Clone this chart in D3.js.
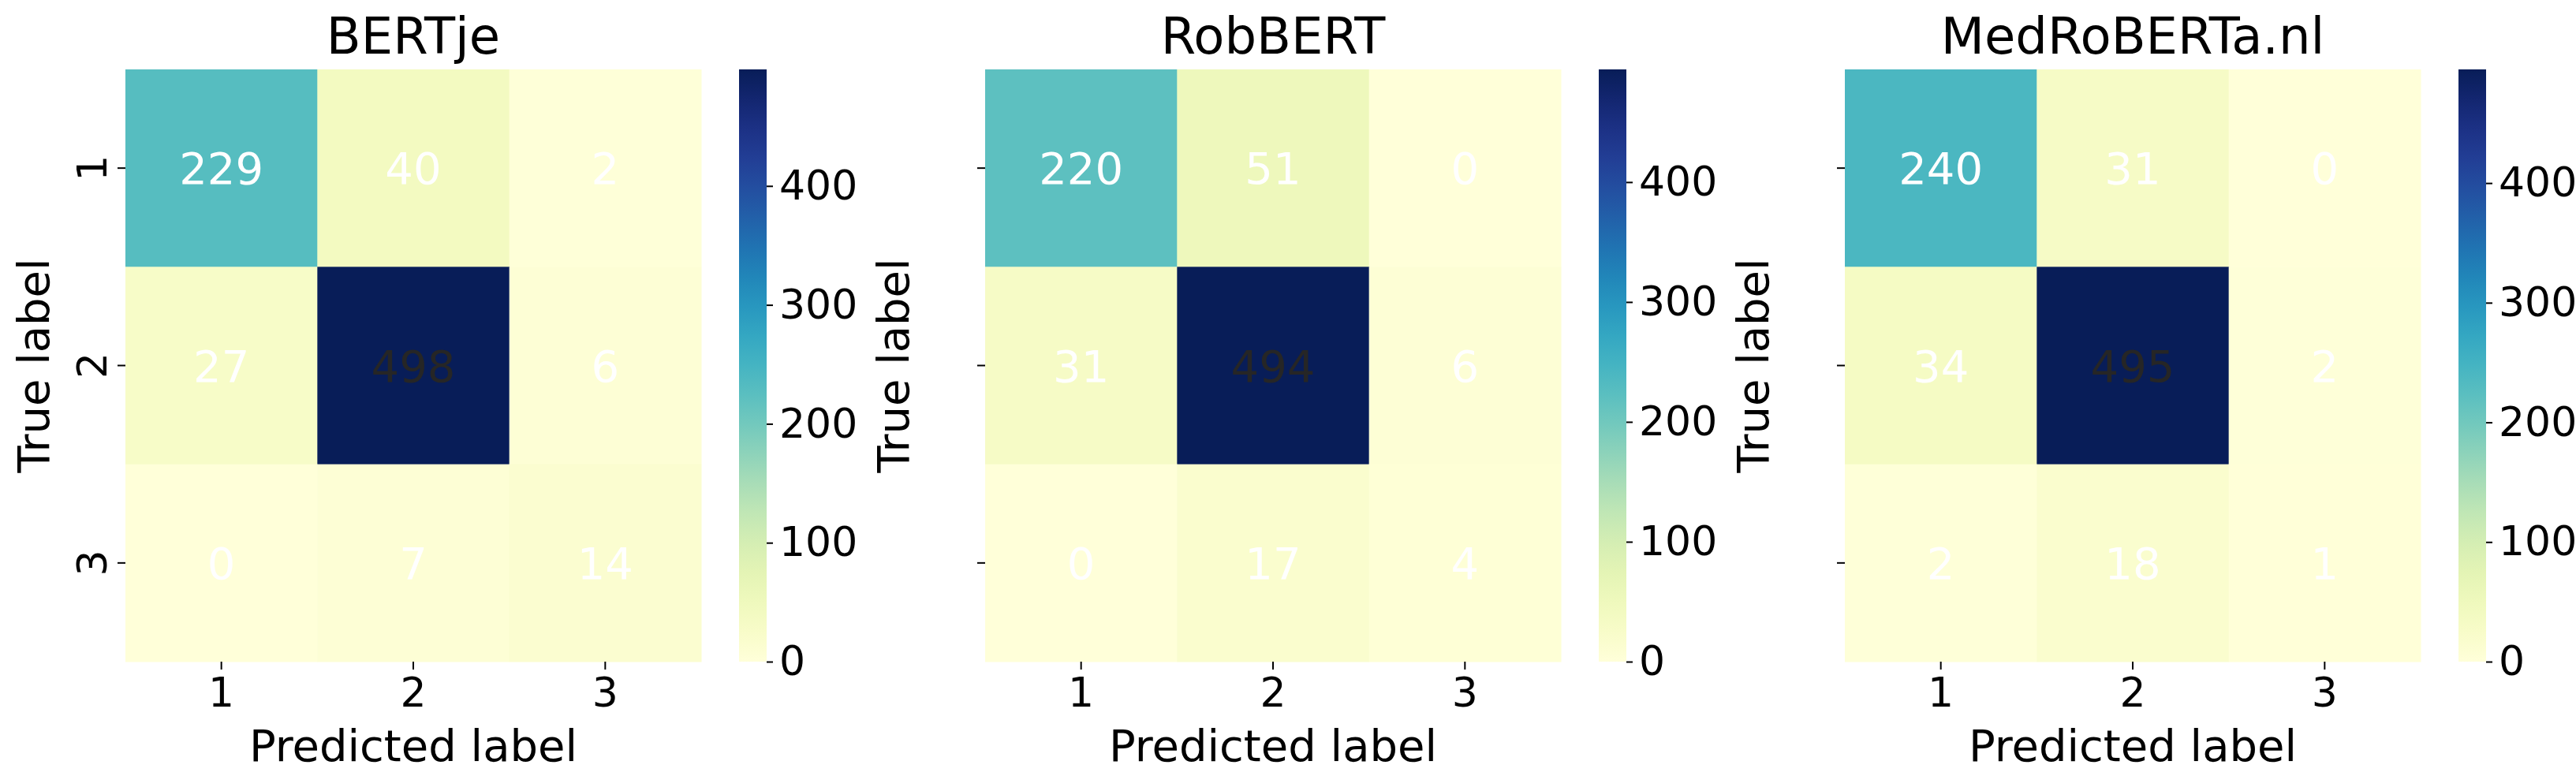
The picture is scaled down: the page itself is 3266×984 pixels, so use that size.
<!DOCTYPE html>
<html>
<head>
<meta charset="utf-8">
<script src="https://cdn.jsdelivr.net/npm/d3@7"></script>
<style>
  body { margin: 0; background: #fff; }
  text { font-family: "DejaVu Sans", sans-serif; }
</style>
</head>
<body>
<svg id="chart" width="3266" height="984"></svg>
<script>
// data
let models = ["BERTje", "RobBERT", "MedRoBERTa.nl"];
let labels = ["1", "2", "3"];
let bertje = [[229, 40, 2], [27, 498, 6], [0, 7, 14]];
let robbert = [[220, 51, 0], [31, 494, 6], [0, 17, 4]];
let medroberta = [[240, 31, 0], [34, 495, 2], [2, 18, 1]];
let matrices = [bertje, robbert, medroberta];
let cbarTicks = [0, 100, 200, 300, 400];

let svg = d3.select("#chart");
let hmW = 730, hmH = 751, marginTop = 88;
let offsets = [159, 1249, 2339];

matrices.forEach((m, p) => {
  let x0 = offsets[p];
  let g = svg.append("g").attr("transform", `translate(${x0}, ${marginTop})`);
  let maxV = d3.max(m.flat());
  let color = d3.scaleSequential(d3.interpolateYlGnBu).domain([0, maxV]);

  let x = d3.scaleBand().domain(labels).range([0, hmW]);
  let y = d3.scaleBand().domain(labels).range([0, hmH]);

  let cells = [];
  m.forEach((row, i) => row.forEach((v, j) => cells.push({r: labels[i], c: labels[j], v: v})));

  g.selectAll("rect.cell").data(cells).enter().append("rect")
    .attr("x", d => x(d.c)).attr("y", d => y(d.r))
    .attr("width", x.bandwidth() + 0.5).attr("height", y.bandwidth() + 0.5)
    .attr("fill", d => color(d.v));

  g.selectAll("text.annot").data(cells).enter().append("text")
    .attr("x", d => x(d.c) + x.bandwidth() / 2)
    .attr("y", d => y(d.r) + y.bandwidth() / 2)
    .attr("dy", "0.36em")
    .attr("text-anchor", "middle")
    .attr("font-size", 56)
    .attr("fill", d => d.v / maxV > 0.6 ? "#262626" : "#fff")
    .text(d => d.v);

  // axes
  let xAxis = g.append("g").attr("transform", `translate(0, ${hmH})`)
    .call(d3.axisBottom(x).tickSize(10).tickPadding(10));
  xAxis.select(".domain").remove();
  xAxis.selectAll("text").attr("font-size", 52).attr("font-family", "DejaVu Sans").attr("fill", "#000");
  xAxis.selectAll("line").attr("stroke", "#000").attr("stroke-width", 2);

  let yAxis = g.append("g").call(d3.axisLeft(y).tickSize(10).tickFormat(p === 0 ? d => d : ""));
  yAxis.select(".domain").remove();
  yAxis.selectAll("line").attr("stroke", "#000").attr("stroke-width", 2);
  yAxis.selectAll("text")
    .attr("font-size", 52).attr("font-family", "DejaVu Sans").attr("fill", "#000")
    .attr("text-anchor", "middle").attr("x", 0).attr("dy", 0)
    .attr("transform", "translate(-42, 0) rotate(-90)")
    .attr("dominant-baseline", "central");

  g.append("text")
    .attr("x", hmW / 2).attr("y", -20)
    .attr("text-anchor", "middle").attr("font-size", 64)
    .text(models[p]);

  g.append("text")
    .attr("x", hmW / 2).attr("y", hmH + 126)
    .attr("text-anchor", "middle").attr("font-size", 56)
    .text("Predicted label");

  g.append("text")
    .attr("transform", `translate(-97, ${hmH / 2}) rotate(-90)`)
    .attr("text-anchor", "middle").attr("font-size", 56)
    .text("True label");

  // colorbar
  let cbX = 778, cbW = 35;
  let cy = d3.scaleLinear().domain([0, maxV]).range([hmH, 0]);
  let gradId = "grad" + p;
  let grad = svg.append("defs").append("linearGradient").attr("id", gradId)
    .attr("x1", 0).attr("y1", 1).attr("x2", 0).attr("y2", 0);
  d3.range(0, 1.001, 0.05).forEach(t => {
    grad.append("stop").attr("offset", t).attr("stop-color", color(t * maxV));
  });
  g.append("rect").attr("x", cbX).attr("y", 0).attr("width", cbW).attr("height", hmH)
    .attr("fill", `url(#${gradId})`);
  let cAxis = g.append("g").attr("transform", `translate(${cbX + cbW}, 0)`)
    .call(d3.axisRight(cy).tickValues(cbarTicks).tickSize(8).tickPadding(8));
  cAxis.select(".domain").remove();
  cAxis.selectAll("line").attr("stroke", "#000").attr("stroke-width", 2);
  cAxis.selectAll("text").attr("font-size", 52).attr("font-family", "DejaVu Sans").attr("fill", "#000");
});
</script>
</body>
</html>
